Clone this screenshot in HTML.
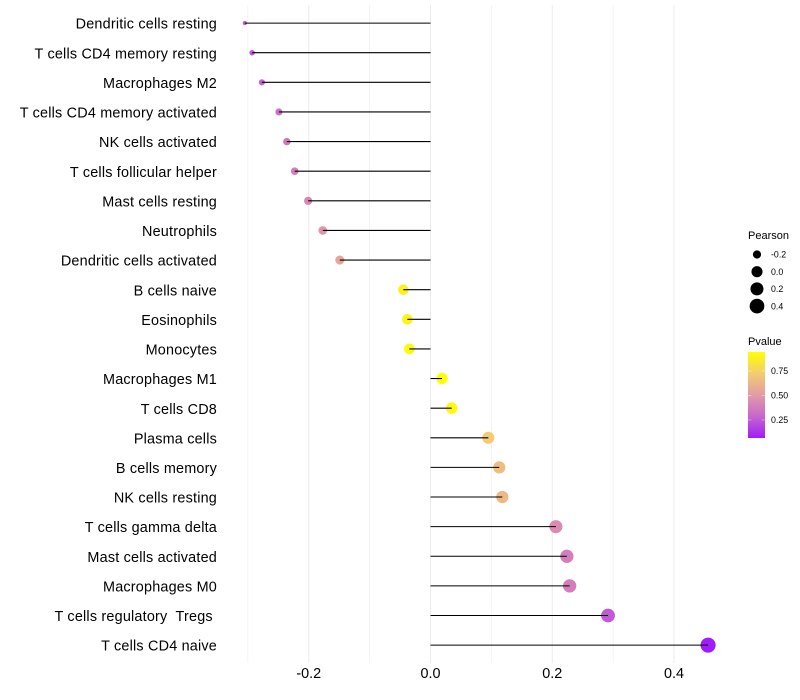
<!DOCTYPE html>
<html>
<head>
<meta charset="utf-8">
<title>Lollipop chart</title>
<style>
html,body{margin:0;padding:0;background:#fff;}
svg{display:block;font-family:"Liberation Sans",sans-serif;}
</style>
</head>
<body>
<svg id="chart" width="800" height="700" viewBox="0 0 800 700" xmlns="http://www.w3.org/2000/svg">
<defs>
<linearGradient id="pvalGrad" x1="0" y1="1" x2="0" y2="0">
<stop offset="0" stop-color="#A01CF8"/>
<stop offset="0.25" stop-color="#C766CE"/>
<stop offset="0.5" stop-color="#E39BA6"/>
<stop offset="0.75" stop-color="#F3CC72"/>
<stop offset="1" stop-color="#FFFF00"/>
</linearGradient>
</defs>
<g id="grid"></g>
<g id="points"></g>
<g id="stems"></g>
<g id="ylabels"></g>
<g id="xlabels"></g>
<g id="sizeLegend"></g>
<g id="colorLegend"></g>
</svg>
<script>
const categories = ["Dendritic cells resting","T cells CD4 memory resting","Macrophages M2","T cells CD4 memory activated","NK cells activated","T cells follicular helper","Mast cells resting","Neutrophils","Dendritic cells activated","B cells naive","Eosinophils","Monocytes","Macrophages M1","T cells CD8","Plasma cells","B cells memory","NK cells resting","T cells gamma delta","Mast cells activated","Macrophages M0","T cells regulatory  Tregs ","T cells CD4 naive"];
const pearson = [-0.305,-0.293,-0.277,-0.249,-0.236,-0.223,-0.201,-0.177,-0.149,-0.0446,-0.038,-0.0348,0.0189,0.0348,0.095,0.113,0.118,0.206,0.224,0.2286,0.2916,0.456];
const pvalue = [0.25,0.25,0.28,0.33,0.35,0.38,0.42,0.48,0.55,0.88,0.9,0.92,0.943,0.92,0.72,0.66,0.64,0.44,0.38,0.38,0.25,0.066];
const xTicks = [-0.2,0,0.2,0.4];
const xMinorTicks = [-0.3,-0.1,0.1,0.3];
const sizeLegendValues = [-0.2,0,0.2,0.4];
const colorLegendTicks = [0.25,0.5,0.75];
const pvalueRange = [0.066,0.943];

const NS = "http://www.w3.org/2000/svg";
const X0 = 430.5, XK = 608.75;
const Y0 = 23.1, YS = 29.62;
const GRID_TOP = 5, GRID_BOTTOM = 663;
const xScale = v => X0 + v * XK;
const yScale = i => Y0 + i * YS;
const minP = Math.min(...pearson), maxP = Math.max(...pearson);
const sizeScale = v => 4.1 + 11 * Math.sqrt(Math.max(0, (v - minP) / (maxP - minP)));

const colorStops = [[0,[160,28,248]],[0.25,[199,102,206]],[0.5,[227,155,166]],[0.75,[243,204,114]],[1,[255,255,0]]];
function colorScale(p){
  const t = Math.min(1, Math.max(0, (p - pvalueRange[0]) / (pvalueRange[1] - pvalueRange[0])));
  for (let k = 1; k < colorStops.length; k++) {
    if (t <= colorStops[k][0]) {
      const a = colorStops[k-1], b = colorStops[k];
      const f = (t - a[0]) / (b[0] - a[0]);
      const c = a[1].map((va, n) => Math.round(va + (b[1][n] - va) * f));
      return "rgb(" + c.join(",") + ")";
    }
  }
  return "rgb(255,255,0)";
}
function mk(tag, attrs, parent){
  const el = document.createElementNS(NS, tag);
  for (const key in attrs) el.setAttribute(key, attrs[key]);
  parent.appendChild(el);
  return el;
}
const gGrid = document.getElementById("grid");
const gPoints = document.getElementById("points");
const gStems = document.getElementById("stems");
const gY = document.getElementById("ylabels");
const gX = document.getElementById("xlabels");
const gSize = document.getElementById("sizeLegend");
const gColor = document.getElementById("colorLegend");

xMinorTicks.forEach(v => {
  const l = mk("line", {x1:xScale(v),x2:xScale(v),y1:GRID_TOP,y2:GRID_BOTTOM,stroke:"#f0f0f0","stroke-width":0.7}, gGrid);
  
  
});
xTicks.forEach(v => {
  const l = mk("line", {x1:xScale(v),x2:xScale(v),y1:GRID_TOP,y2:GRID_BOTTOM,stroke:"#ebebeb","stroke-width":1}, gGrid);
  
  
  const t = mk("text", {x:xScale(v),y:678,"text-anchor":"middle","font-size":"14.4px",fill:"#000"}, gX);
  t.textContent = v.toFixed(1);
  
  
});
categories.forEach((name, i) => {
  const y = yScale(i), v = pearson[i];
  const c = mk("circle", {cx:xScale(v),cy:y,r:sizeScale(v)/2,fill:colorScale(pvalue[i])}, gPoints);
  
  
  const s = mk("line", {x1:xScale(0),x2:xScale(v),y1:y,y2:y,stroke:"#000","stroke-width":1.07}, gStems);
  
  
  const t = mk("text", {x:217,y:y+5.6,"text-anchor":"end","font-size":"14.4px","letter-spacing":"0.2px",fill:"#000"}, gY);
  t.setAttribute("xml:space", "preserve");
  t.style.whiteSpace = "pre";
  t.textContent = name;
  
  
});

const st = mk("text", {x:748,y:239,"font-size":"11px",fill:"#000"}, gSize);
st.textContent = "Pearson";


sizeLegendValues.forEach((v, i) => {
  const y = 254.5 + i * 17.2;
  const c = mk("circle", {cx:757,cy:y,r:sizeScale(v)/2,fill:"#000"}, gSize);
  
  
  const t = mk("text", {x:771,y:y+3.2,"font-size":"8.8px",fill:"#000"}, gSize);
  t.textContent = v.toFixed(1);
  
  
});

const ct = mk("text", {x:748,y:345,"font-size":"11px",fill:"#000"}, gColor);
ct.textContent = "Pvalue";


const bar = mk("rect", {x:748,y:352,width:17,height:86,fill:"url(#pvalGrad)"}, gColor);


const cbY = p => 438 - (p - pvalueRange[0]) / (pvalueRange[1] - pvalueRange[0]) * 86;
colorLegendTicks.forEach(p => {
  const y = cbY(p);
  const a = mk("line", {x1:748,x2:751.4,y1:y,y2:y,stroke:"#fff","stroke-width":0.6,opacity:0.6}, gColor);
  
  
  const b = mk("line", {x1:761.6,x2:765,y1:y,y2:y,stroke:"#fff","stroke-width":0.6,opacity:0.6}, gColor);
  
  
  const t = mk("text", {x:771,y:y+3.2,"font-size":"8.8px",fill:"#000"}, gColor);
  t.textContent = p.toFixed(2);
  
  
});
</script>
</body>
</html>
